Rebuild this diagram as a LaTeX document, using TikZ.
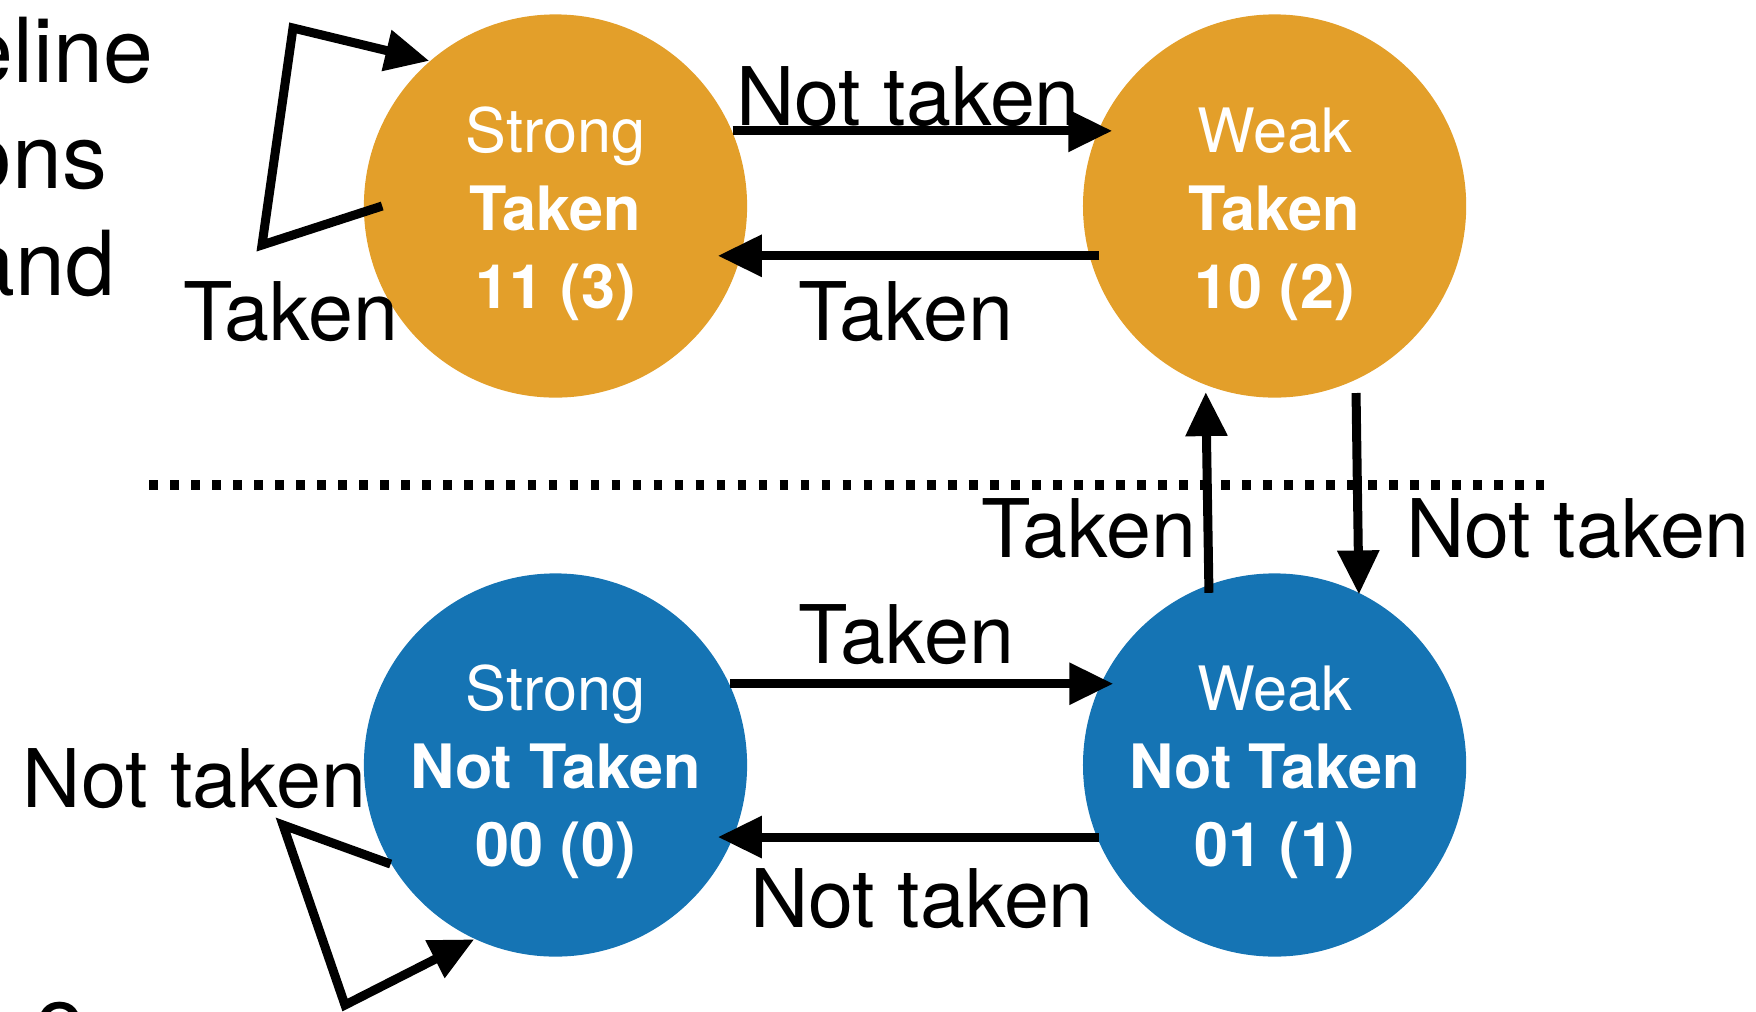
\documentclass[tikz,border=0pt]{standalone}
\usepackage{fontspec}
\setmainfont{TeX Gyre Heros}
\usetikzlibrary{arrows.meta}
\definecolor{takenorange}{RGB}{227,159,42}
\definecolor{notblue}{RGB}{21,116,180}

\begin{document}
\begin{tikzpicture}[x=0.01cm, y=-0.01cm,
  state/.style={circle, minimum size=3.83cm, inner sep=0pt, text=white, align=center,
    font=\fontsize{17.4}{22.2}\selectfont},
  arr/.style={line width=0.09cm, -{Triangle[length=0.44cm, width=0.40cm]}},
  lbl/.style={font=\fontsize{23}{27}\selectfont, inner sep=0pt, anchor=base},
  slide/.style={font=\fontsize{25.5}{30}\selectfont, inner sep=0pt, anchor=base east}]
  \useasboundingbox (0,0) rectangle (1756,1011);
  \clip (0,0) rectangle (1756,1011);

  % Cut-off slide text on the left
  \node[slide] (txta) at (154,82) {eline};
  \node[slide] (txtb) at (108,188) {ons};
  \node[slide] (txtc) at (116,295) {and};
  \node[slide, anchor=base] (txtd) at (60,1050) {o};

  % Predict taken (top) and predict not taken (bottom)
  \node[state, fill=takenorange] (st) at (555.5,206) {\rule{0pt}{0.62cm}Strong\\\textbf{Taken}\\\textbf{11 (3)}};
  \node[state, fill=takenorange] (wt) at (1274.6,206) {\rule{0pt}{0.62cm}Weak\\\textbf{Taken}\\\textbf{10 (2)}};
  \node[state, fill=notblue] (sn) at (555.5,765) {\rule{0pt}{0.6cm}Strong\\\textbf{Not Taken}\\\textbf{00 (0)}};
  \node[state, fill=notblue] (wn) at (1274.6,765) {\rule{0pt}{0.6cm}Weak\\\textbf{Not Taken}\\\textbf{01 (1)}};

  % Dotted boundary
  \draw[line width=0.107cm, dash pattern=on 0.088cm off 0.122cm] (149.3,485) -- (1544,485);

  % Transitions between states
  \draw[arr, shorten >=-0.147cm] (st.23) -- (wt.157);
  \draw[arr, shorten <=-0.104cm, shorten >=-0.235cm] (wt.195) -- (st.-15);
  \draw[arr, shorten >=-0.13cm] (sn.25) -- (wn.155);
  \draw[arr, shorten <=-0.03cm, shorten >=-0.16cm] (wn.202) -- (sn.-22);
  \draw[arr, shorten <=-0.085cm, shorten >=0.065cm] (wn.110.35) -- (wt.249.65);
  \draw[arr, shorten <=0.127cm, shorten >=-0.023cm] (wt.295.2) -- (wn.64.8);

  % Self loops
  \draw[arr] ([xshift=0.19cm]st.west) -- (262,245) -- (293,28) -- (st.131);
  \draw[arr] (sn.211) -- (283,825) -- (345,1005) -- (sn.245);

  % Transition labels
  \node[lbl] (nt1) at (908,125) {Not taken};
  \node[lbl] (tk1) at (906,340) {Taken};
  \node[lbl] (tk2) at (906.5,663) {Taken};
  \node[lbl] (nt2) at (922,927) {Not taken};
  \node[lbl] (tk3) at (1089,557) {Taken};
  \node[lbl] (nt3) at (1578,557) {Not taken};
  \node[lbl] (tk4) at (291,340) {Taken};
  \node[lbl] (nt4) at (194.5,807) {Not taken};
\end{tikzpicture}
\end{document}
